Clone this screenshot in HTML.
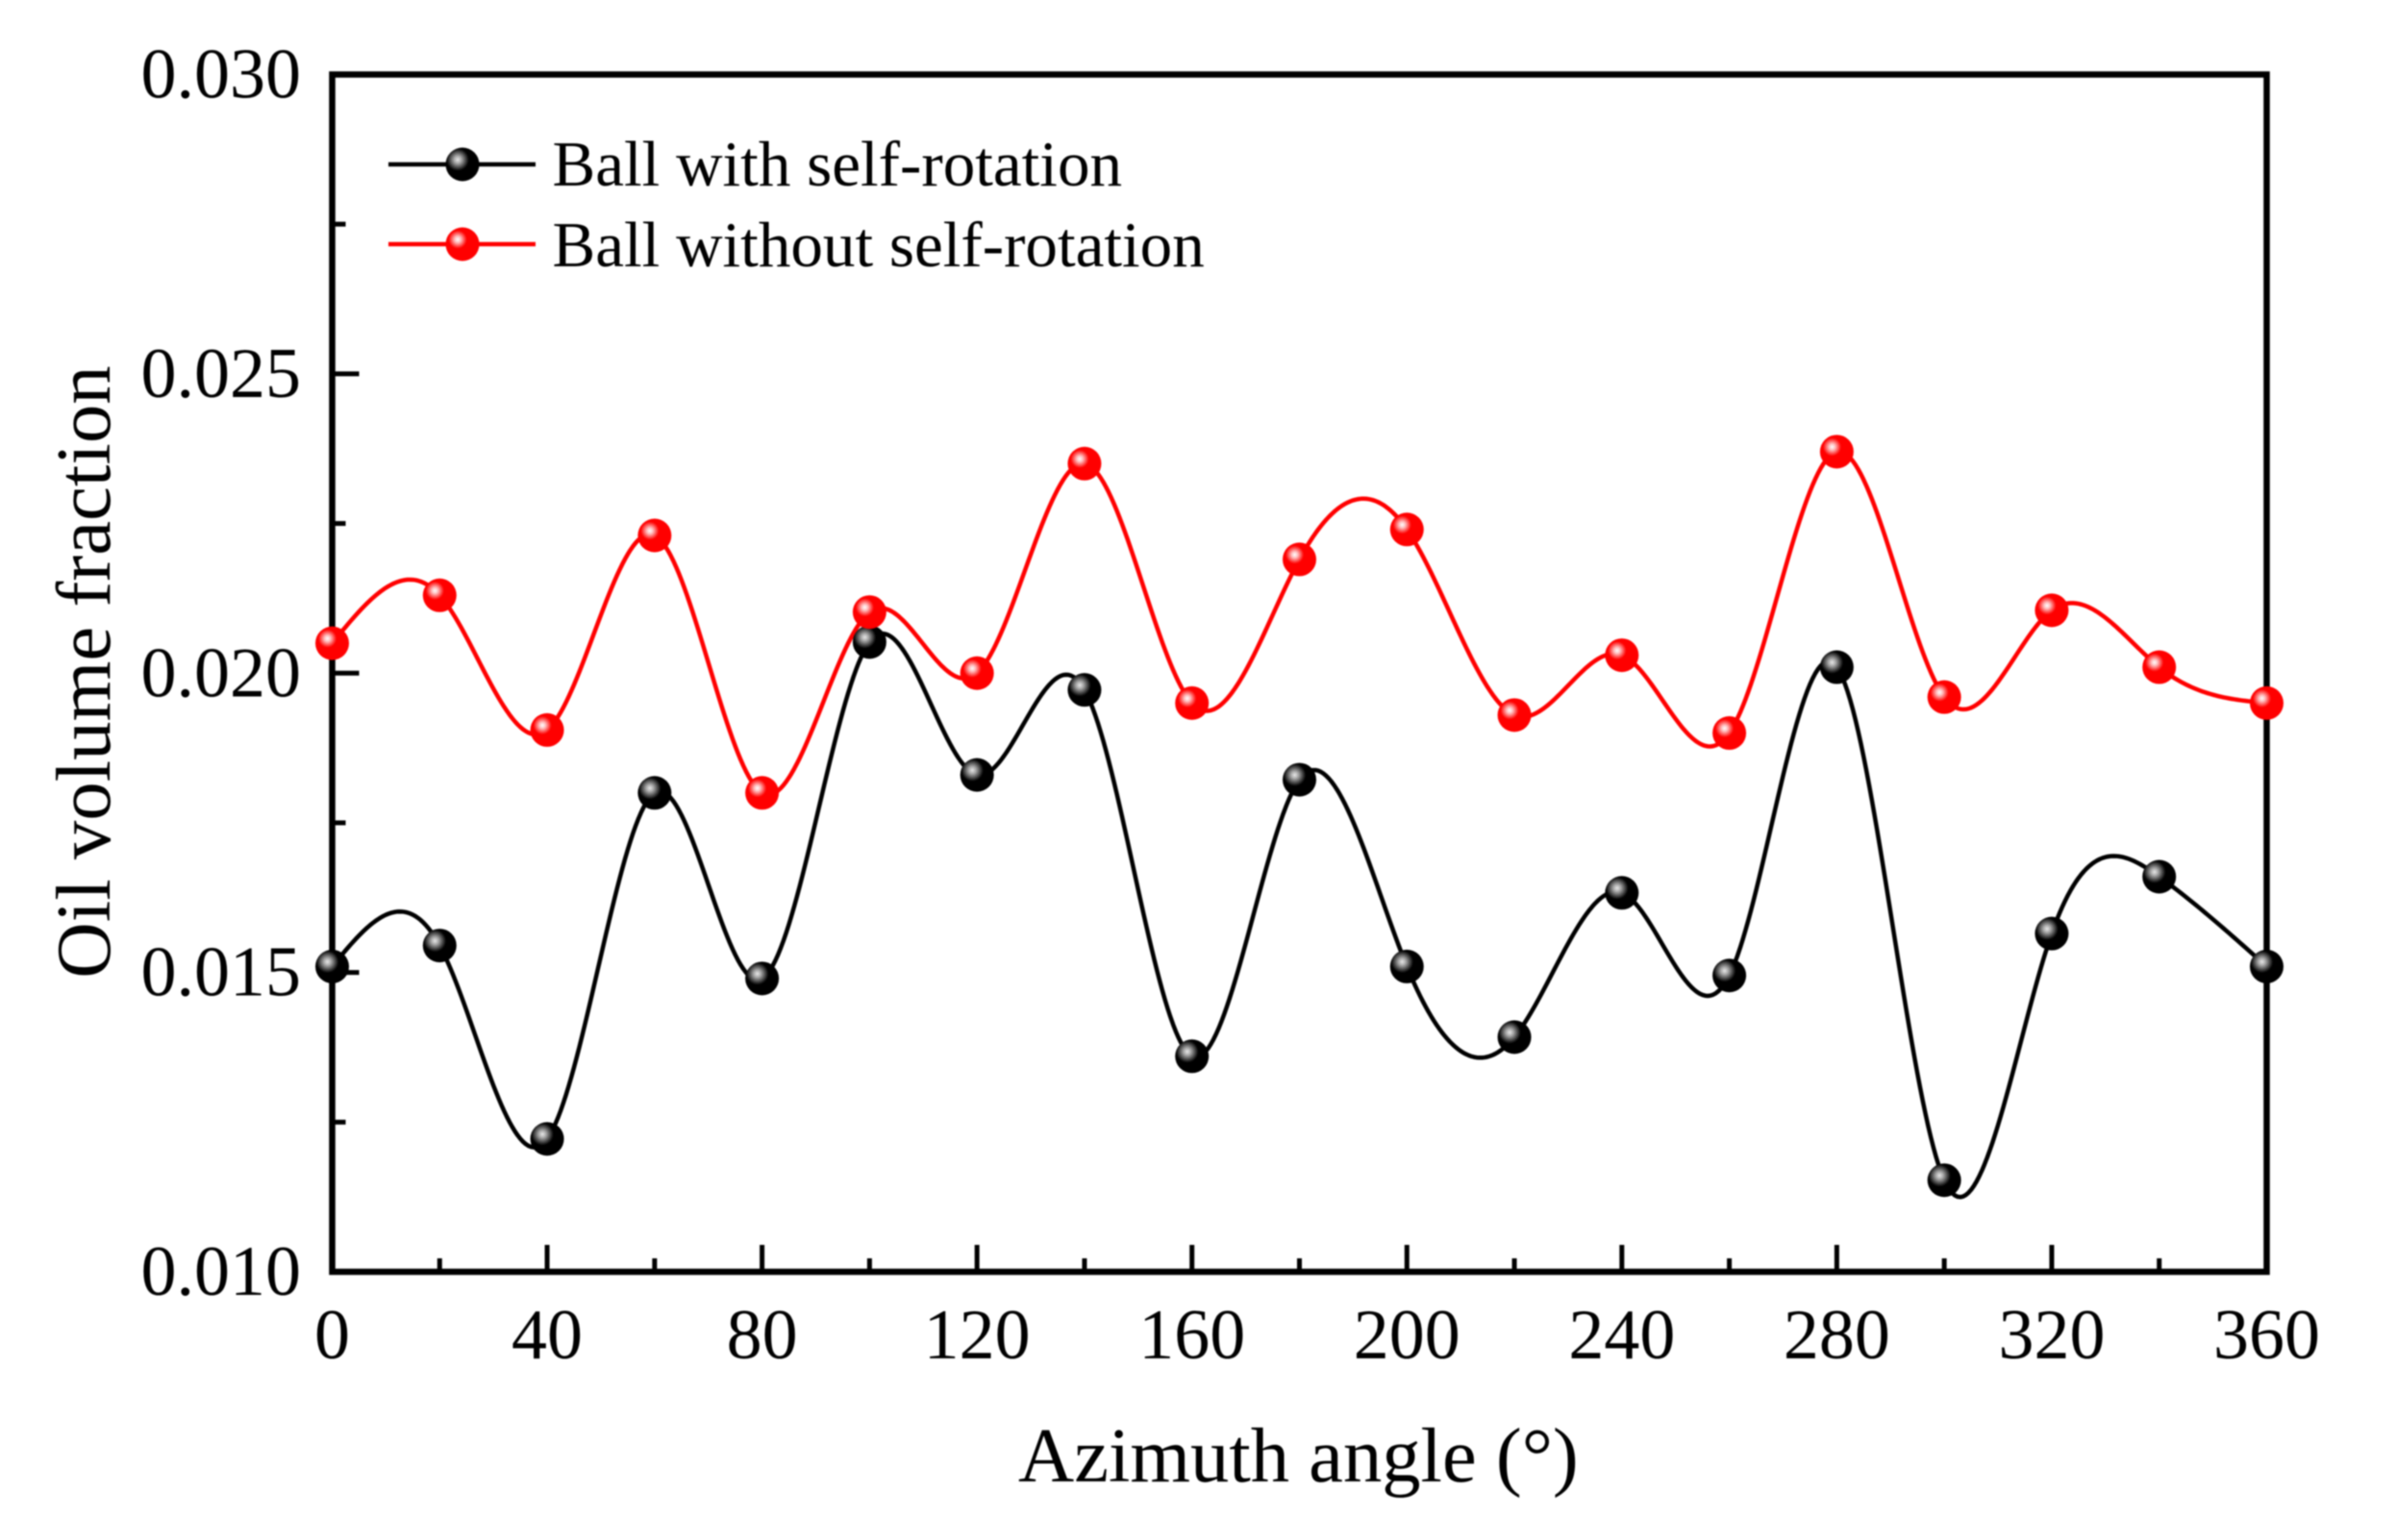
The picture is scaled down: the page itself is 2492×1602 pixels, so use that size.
<!DOCTYPE html>
<html lang="en">
<head>
<meta charset="utf-8">
<title>Oil volume fraction vs azimuth angle</title>
<style>
html,body{margin:0;padding:0;background:#fff;}
svg{display:block;filter:blur(0.75px);}
text{font-family:"Liberation Serif",serif;fill:#000;}
</style>
</head>
<body>
<svg id="chart" xmlns="http://www.w3.org/2000/svg" width="2492" height="1602" viewBox="0 0 2492 1602">
<defs>
<radialGradient id="ball-black" cx="0.36" cy="0.36" r="0.6">
<stop offset="0" stop-color="#e8e8e8"/><stop offset="0.18" stop-color="#a8a8a8"/><stop offset="0.55" stop-color="#000"/><stop offset="1" stop-color="#000"/>
</radialGradient>
<radialGradient id="ball-red" cx="0.36" cy="0.36" r="0.6">
<stop offset="0" stop-color="#fff"/><stop offset="0.15" stop-color="#ffc0c0"/><stop offset="0.45" stop-color="#f00"/><stop offset="1" stop-color="#f00"/>
</radialGradient>
</defs>
<rect x="0" y="0" width="2492" height="1602" fill="#fff"/>
<g id="series-layer"></g>
<g id="axis-layer"></g>
<g id="marker-layer"></g>
<text x="1059" y="1541" font-size="80.6">Azimuth angle (°)</text>
<text transform="translate(114,699) rotate(-90)" text-anchor="middle" font-size="80.8">Oil volume fraction</text>
<g>
<g>
<line x1="404" y1="171" x2="557" y2="171" stroke="#000" stroke-width="4.5"/>
<circle cx="481" cy="171" r="17.5" fill="url(#ball-black)"/>
<text x="574.5" y="193" font-size="67.1">Ball with self-rotation</text>
</g>
<g>
<line x1="404" y1="254" x2="557" y2="254" stroke="#f00" stroke-width="4.5"/>
<circle cx="481" cy="254" r="17.5" fill="url(#ball-red)"/>
<text x="574.5" y="277" font-size="67.1">Ball without self-rotation</text>
</g>
</g>
</svg>
<script>
const azimuthAngles = [0,20,40,60,80,100,120,140,160,180,200,220,240,260,280,300,320,340,360];
const withRotation = [0.0151,0.01545,0.01222,0.0180,0.0149,0.02052,0.0183,0.01972,0.0136,0.01822,0.0151,0.01392,0.01633,0.01495,0.0201,0.01153,0.01565,0.0166,0.0151];
const withoutRotation = [0.0205,0.0213,0.01905,0.0223,0.0180,0.02102,0.0200,0.0235,0.0195,0.0219,0.0224,0.0193,0.0203,0.0190,0.0237,0.0196,0.02105,0.0201,0.0195];
const xMajorTicks = [0,40,80,120,160,200,240,280,320,360];
const xMinorTicks = [20,60,100,140,180,220,260,300,340];
const yMajorTicks = [0.010,0.015,0.020,0.025,0.030];
const yMinorTicks = [0.0125,0.0175,0.0225,0.0275];
const yTickLabels = ["0.010","0.015","0.020","0.025","0.030"];

const NS = "http://www.w3.org/2000/svg";
const plot = {left:345.5,right:2357.5,top:77.5,bottom:1323};
const xDomain = [0,360];
const yDomain = [0.010,0.030];
function xScale(v){return plot.left+(v-xDomain[0])/(xDomain[1]-xDomain[0])*(plot.right-plot.left);}
function yScale(v){return plot.bottom-(v-yDomain[0])/(yDomain[1]-yDomain[0])*(plot.bottom-plot.top);}

function splineSampler(xs,ys){
  const n=xs.length, m=new Array(n).fill(0), c=new Array(n).fill(0), d=new Array(n).fill(0);
  for(let i=1;i<n-1;i++){
    const h0=xs[i]-xs[i-1], h1=xs[i+1]-xs[i];
    const p=2*(h0+h1)-h0*c[i-1];
    c[i]=h1/p;
    d[i]=(6*((ys[i+1]-ys[i])/h1-(ys[i]-ys[i-1])/h0)-h0*d[i-1])/p;
  }
  for(let i=n-2;i>=1;i--){m[i]=d[i]-c[i]*m[i+1];}
  return function(x){
    let i=0;
    while(i<n-2&&x>xs[i+1]){i++;}
    const h=xs[i+1]-xs[i], a=(xs[i+1]-x)/h, b=(x-xs[i])/h;
    return a*ys[i]+b*ys[i+1]+((a*a*a-a)*m[i]+(b*b*b-b)*m[i+1])*h*h/6;
  };
}

const axisLayer=document.getElementById("axis-layer");
const seriesLayer=document.getElementById("series-layer");
const markerLayer=document.getElementById("marker-layer");

function tickLine(x1,y1,x2,y2,width){
  const el=document.createElementNS(NS,"line");
  el.setAttribute("x1",x1);el.setAttribute("y1",y1);el.setAttribute("x2",x2);el.setAttribute("y2",y2);
  el.setAttribute("stroke","#000");el.setAttribute("stroke-width",width);
  return el;
}

const frame=document.createElementNS(NS,"rect");


frame.setAttribute("x",plot.left);frame.setAttribute("y",plot.top);
frame.setAttribute("width",plot.right-plot.left);frame.setAttribute("height",plot.bottom-plot.top);
frame.setAttribute("fill","none");frame.setAttribute("stroke","#000");frame.setAttribute("stroke-width","6.5");
axisLayer.appendChild(frame);

xMajorTicks.forEach(function(v){
  const t=tickLine(xScale(v),plot.bottom,xScale(v),plot.bottom-28,5);
  
  
  axisLayer.appendChild(t);
  const l=document.createElementNS(NS,"text");
  
  
  l.setAttribute("x",xScale(v));l.setAttribute("y",1413);
  l.setAttribute("text-anchor","middle");l.setAttribute("font-size","74");
  l.textContent=String(v);
  axisLayer.appendChild(l);
});
xMinorTicks.forEach(function(v){
  const t=tickLine(xScale(v),plot.bottom,xScale(v),plot.bottom-14,5);
  
  
  axisLayer.appendChild(t);
});
yMajorTicks.forEach(function(v,i){
  const t=tickLine(plot.left,yScale(v),plot.left+28,yScale(v),5);
  
  
  axisLayer.appendChild(t);
  const l=document.createElementNS(NS,"text");
  
  
  l.setAttribute("x",313);l.setAttribute("y",yScale(v)+24);
  l.setAttribute("text-anchor","end");l.setAttribute("font-size","74");
  l.textContent=yTickLabels[i];
  axisLayer.appendChild(l);
});
yMinorTicks.forEach(function(v){
  const t=tickLine(plot.left,yScale(v),plot.left+14,yScale(v),5);
  
  
  axisLayer.appendChild(t);
});

function drawCurve(values,color,name){
  const f=splineSampler(azimuthAngles,values);
  const pts=[];
  const x0=azimuthAngles[0], x1=azimuthAngles[azimuthAngles.length-1];
  for(let i=0;i<=720;i++){
    const x=x0+(x1-x0)*i/720;
    pts.push(xScale(x).toFixed(2)+","+yScale(f(x)).toFixed(2));
  }
  const p=document.createElementNS(NS,"polyline");
  
  
  p.setAttribute("points",pts.join(" "));
  p.setAttribute("fill","none");p.setAttribute("stroke",color);p.setAttribute("stroke-width","4.5");
  p.setAttribute("stroke-linejoin","round");
  seriesLayer.appendChild(p);
}
function drawMarkers(values,fill,name){
  values.forEach(function(v,i){
    const c=document.createElementNS(NS,"circle");
    
    
    c.setAttribute("cx",xScale(azimuthAngles[i]));
    c.setAttribute("cy",yScale(v));
    c.setAttribute("r","17.5");
    c.setAttribute("fill",fill);
    markerLayer.appendChild(c);
  });
}
drawCurve(withRotation,"#000","line-with-rotation");
drawCurve(withoutRotation,"#f00","line-without-rotation");
drawMarkers(withRotation,"url(#ball-black)","point-with-rotation");
drawMarkers(withoutRotation,"url(#ball-red)","point-without-rotation");
</script>
</body>
</html>
